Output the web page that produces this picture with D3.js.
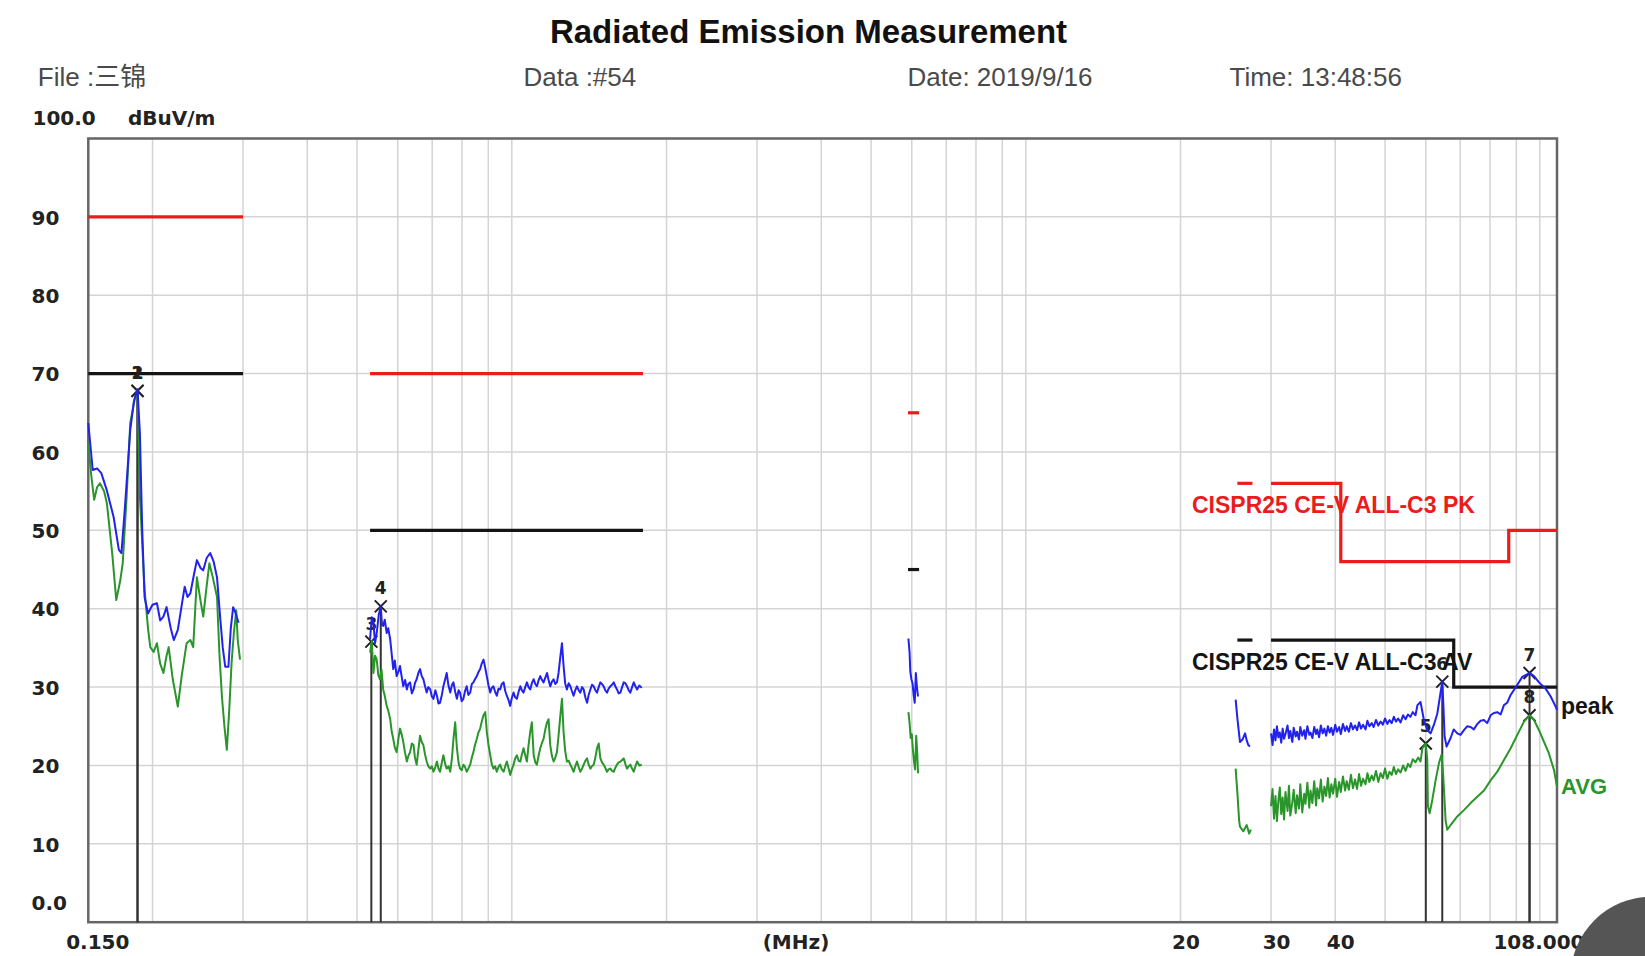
<!DOCTYPE html>
<html><head><meta charset="utf-8">
<script src="https://cdn.jsdelivr.net/npm/d3@7"></script>
<style>body{margin:0;background:#fff;} svg{display:block;}</style>
</head><body>
<svg id="chart" width="1645" height="956"></svg>
<script>
// ---------------- DATA ----------------
const yTickValues = [0, 10, 20, 30, 40, 50, 60, 70, 80, 90];
const yTickLabels = ["0.0", "10", "20", "30", "40", "50", "60", "70", "80", "90"];
const yGridValues = [10, 20, 30, 40, 50, 60, 70, 80, 90];
const xTickValues = [0.15, 20, 30, 40, 108];
const xTickLabels = ["0.150", "20", "30", "40", "108.000"];
const xGridFreqs = [0.2, 0.3, 0.4, 0.5, 0.6, 0.7, 0.8, 0.9, 1, 2, 3, 4, 5, 6, 7, 8, 9, 10, 20, 30, 40, 50, 60, 70, 80, 90, 100];

// limit lines [MHz, dBuV/m]
const pkLimitLW = [[0.15, 90], [0.30, 90]];
const pkLimitAM = [[0.53, 70], [1.8, 70]];
const pkLimitSW = [[5.9, 65], [6.2, 65]];
const pkLimitCB = [[25.8, 56], [27.6, 56]];
const pkLimitVHF = [[30, 56], [41, 56], [41, 46], [87, 46], [87, 50], [108, 50]];
const avLimitLW = [[0.15, 70], [0.30, 70]];
const avLimitAM = [[0.53, 50], [1.8, 50]];
const avLimitSW = [[5.9, 45], [6.2, 45]];
const avLimitCB = [[25.8, 36], [27.6, 36]];
const avLimitVHF = [[30, 36], [68, 36], [68, 30], [108, 30]];

// peak trace (blue)
const peakLW = [[0.150,63.7],[0.153,57.7],[0.156,57.9],[0.159,57.3],[0.163,55.1],[0.168,51.7],[0.172,47.5],[0.174,47.1],[0.177,53.5],[0.181,62.8],[0.184,66.5],[0.187,68.0],[0.189,62.4],[0.191,50.0],[0.193,41.5],[0.196,39.4],[0.200,40.5],[0.204,40.7],[0.207,38.5],[0.210,39.0],[0.213,40.2],[0.217,37.5],[0.220,36.0],[0.224,37.3],[0.228,40.5],[0.231,42.8],[0.234,41.5],[0.237,42.0],[0.241,44.5],[0.244,46.2],[0.248,45.2],[0.251,44.9],[0.255,46.5],[0.259,47.1],[0.263,46.0],[0.267,44.0],[0.271,38.6],[0.274,35.0],[0.277,32.6],[0.281,32.6],[0.284,37.5],[0.287,40.2],[0.290,39.5],[0.294,38.2]];
const peakAM = [[0.530,36.1],[0.534,38.9],[0.538,38.2],[0.542,35.6],[0.546,36.9],[0.551,39.2],[0.556,40.3],[0.559,38.0],[0.562,37.8],[0.566,38.6],[0.571,36.9],[0.575,37.5],[0.580,36.1],[0.588,32.3],[0.592,33.4],[0.597,31.4],[0.602,32.0],[0.606,32.7],[0.611,31.2],[0.615,30.1],[0.620,30.9],[0.625,29.7],[0.629,30.4],[0.634,30.6],[0.639,29.2],[0.644,29.7],[0.648,30.5],[0.653,31.0],[0.658,31.8],[0.663,32.3],[0.668,31.4],[0.673,31.0],[0.678,30.1],[0.683,29.3],[0.688,30.0],[0.694,29.7],[0.699,28.8],[0.704,28.5],[0.710,29.6],[0.715,28.9],[0.720,27.9],[0.725,28.0],[0.731,29.0],[0.736,30.1],[0.742,31.0],[0.747,31.8],[0.753,30.2],[0.759,29.3],[0.765,30.3],[0.770,30.6],[0.776,29.4],[0.782,28.5],[0.788,29.6],[0.793,29.3],[0.799,28.2],[0.805,28.5],[0.811,29.5],[0.817,30.1],[0.823,29.0],[0.830,29.3],[0.836,30.4],[0.842,30.6],[0.848,31.0],[0.855,31.4],[0.861,31.9],[0.868,32.3],[0.874,33.0],[0.881,33.5],[0.887,32.6],[0.894,31.4],[0.901,30.2],[0.908,29.3],[0.914,29.9],[0.921,30.1],[0.928,29.4],[0.935,28.9],[0.942,29.8],[0.949,29.7],[0.956,30.4],[0.964,30.6],[0.971,29.5],[0.978,28.9],[0.986,28.3],[0.993,27.6],[1.000,28.6],[1.008,29.3],[1.015,28.7],[1.023,28.5],[1.031,29.4],[1.039,30.1],[1.046,29.6],[1.054,29.3],[1.062,30.0],[1.070,30.6],[1.078,30.0],[1.086,29.7],[1.094,30.5],[1.103,31.0],[1.111,30.4],[1.119,30.1],[1.128,30.9],[1.136,31.4],[1.145,30.9],[1.153,30.6],[1.162,31.2],[1.171,31.8],[1.179,30.9],[1.188,30.1],[1.197,30.7],[1.206,31.0],[1.215,30.4],[1.224,30.6],[1.233,31.8],[1.243,33.9],[1.252,35.6],[1.261,32.7],[1.270,30.5],[1.280,29.7],[1.290,30.5],[1.300,30.1],[1.309,29.5],[1.319,28.9],[1.329,29.6],[1.339,30.1],[1.349,29.6],[1.359,29.3],[1.370,30.0],[1.380,29.7],[1.390,28.7],[1.401,28.0],[1.411,29.0],[1.422,29.7],[1.432,30.3],[1.443,30.1],[1.454,29.6],[1.465,29.3],[1.476,30.0],[1.487,30.6],[1.498,30.4],[1.509,30.1],[1.520,29.6],[1.532,29.3],[1.543,29.8],[1.555,30.1],[1.567,30.3],[1.579,30.6],[1.590,30.1],[1.602,29.7],[1.614,29.2],[1.627,29.3],[1.639,30.0],[1.651,30.6],[1.663,30.5],[1.676,30.1],[1.688,29.6],[1.701,29.3],[1.714,30.0],[1.727,30.6],[1.740,30.1],[1.753,29.7],[1.770,30.2],[1.790,29.9]];
const peakSW = [[5.91,36.2],[5.94,34.5],[5.96,32.0],[5.99,31.0],[6.02,30.5],[6.05,29.0],[6.08,28.0],[6.11,31.8],[6.14,30.0],[6.17,28.8]];
const peakCB = [[25.6,28.4],[25.8,26.0],[26.0,24.0],[26.1,23.0],[26.4,23.3],[26.7,24.1],[26.9,23.2],[27.1,22.6],[27.3,22.4]];
const peakVHF = [[30.0,24.1],[30.2,22.6],[30.4,24.6],[30.6,23.2],[30.8,25.0],[31.0,23.6],[31.2,24.2],[31.4,22.9],[31.6,24.7],[31.8,23.4],[32.0,24.0],[32.3,25.1],[32.5,23.5],[32.7,24.4],[33.0,23.0],[33.2,24.8],[33.5,23.7],[33.7,24.3],[34.0,23.3],[34.2,24.9],[34.5,23.8],[34.8,24.5],[35.0,23.4],[35.3,25.0],[35.6,23.9],[35.8,24.2],[36.1,23.5],[36.4,24.9],[36.7,24.0],[36.9,24.6],[37.2,23.6],[37.5,25.1],[37.8,24.1],[38.1,24.7],[38.4,23.8],[38.7,25.0],[39.0,24.2],[39.3,24.8],[39.6,23.9],[40.0,25.2],[40.3,24.3],[40.7,24.9],[41.0,24.0],[41.4,25.3],[41.8,24.4],[42.1,25.0],[42.5,24.3],[42.9,25.4],[43.3,24.6],[43.7,25.1],[44.1,24.5],[44.5,25.5],[44.9,24.7],[45.3,25.2],[45.8,24.6],[46.2,25.7],[46.6,25.0],[47.1,25.4],[47.5,24.9],[48.0,25.8],[48.5,25.1],[49.0,25.6],[49.5,25.2],[50.0,26.0],[50.5,25.3],[51.0,25.8],[51.5,25.4],[52.0,26.2],[52.5,25.6],[53.0,26.0],[53.6,25.5],[54.2,26.4],[54.8,25.9],[55.4,26.5],[56.0,26.2],[56.6,26.8],[57.3,26.4],[57.8,27.7],[58.6,28.1],[59.5,25.8],[60.40,24.5],[61.31,24.1],[62.23,25.2],[63.17,26.6],[63.93,28.8],[64.60,30.7],[64.89,28.0],[65.28,23.7],[65.86,22.4],[67.05,23.5],[68.0,24.6],[69.09,24.1],[70.1,23.9],[71.18,24.5],[72.2,25.0],[73.34,24.9],[74.4,24.6],[75.57,25.3],[76.7,25.7],[77.86,25.8],[79.0,25.4],[80.22,26.4],[81.4,26.7],[82.66,26.8],[83.9,26.5],[85.16,27.7],[86.4,28.0],[87.75,29.0],[90.41,30.3],[92.46,31.3],[94.29,31.6],[95.50,31.8],[97.43,31.4],[99.63,30.6],[102.65,29.8],[104.98,28.8],[107.35,27.5],[108.0,27.1]];

// average trace (green)
const avgLW = [[0.150,61.1],[0.152,57.0],[0.154,53.9],[0.156,55.5],[0.158,56.0],[0.161,55.0],[0.163,53.5],[0.167,47.0],[0.170,41.1],[0.173,43.5],[0.175,45.8],[0.178,54.0],[0.181,63.7],[0.185,67.0],[0.187,67.5],[0.189,54.3],[0.193,42.4],[0.196,37.5],[0.198,35.1],[0.201,34.5],[0.204,35.6],[0.207,33.0],[0.210,31.8],[0.213,34.0],[0.215,35.1],[0.219,31.0],[0.224,27.5],[0.228,31.5],[0.233,35.6],[0.237,36.0],[0.240,35.1],[0.244,44.0],[0.248,41.0],[0.251,39.0],[0.255,43.0],[0.258,45.8],[0.262,44.0],[0.267,41.5],[0.270,34.0],[0.273,28.7],[0.276,25.0],[0.279,22.0],[0.282,27.0],[0.285,33.1],[0.288,37.0],[0.291,39.8],[0.293,36.0],[0.296,33.5]];
const avgAM = [[0.530,34.4],[0.534,35.9],[0.538,31.8],[0.542,34.0],[0.546,33.5],[0.550,31.5],[0.554,31.0],[0.558,32.2],[0.562,29.7],[0.566,28.9],[0.571,27.6],[0.575,27.0],[0.580,25.9],[0.584,24.3],[0.588,23.4],[0.592,22.3],[0.597,21.7],[0.602,23.5],[0.606,24.7],[0.611,23.9],[0.615,23.0],[0.620,21.6],[0.625,20.5],[0.629,21.2],[0.634,21.7],[0.639,22.8],[0.644,22.6],[0.648,21.0],[0.653,20.1],[0.658,22.0],[0.663,23.8],[0.668,23.0],[0.673,22.6],[0.678,21.4],[0.683,20.5],[0.688,19.9],[0.694,19.6],[0.699,19.9],[0.704,19.2],[0.710,19.8],[0.715,20.5],[0.720,19.6],[0.725,19.2],[0.731,20.4],[0.736,21.3],[0.742,20.2],[0.747,19.6],[0.753,19.9],[0.759,19.2],[0.765,21.0],[0.770,23.4],[0.776,25.5],[0.782,22.2],[0.788,20.3],[0.793,19.6],[0.799,19.4],[0.805,20.1],[0.811,19.8],[0.817,19.2],[0.823,19.6],[0.830,20.1],[0.836,21.0],[0.842,21.7],[0.848,22.6],[0.855,23.4],[0.861,24.2],[0.868,24.7],[0.874,25.6],[0.881,26.4],[0.888,26.8],[0.894,24.3],[0.901,22.6],[0.908,21.3],[0.914,20.2],[0.921,19.6],[0.928,19.9],[0.935,19.2],[0.942,19.8],[0.949,20.1],[0.956,19.5],[0.964,19.2],[0.971,19.9],[0.978,20.5],[0.986,19.6],[0.993,18.8],[1.000,19.5],[1.008,20.1],[1.015,20.9],[1.023,21.3],[1.031,20.6],[1.039,20.5],[1.046,21.4],[1.054,22.2],[1.062,21.3],[1.070,20.5],[1.078,22.6],[1.086,24.3],[1.094,25.5],[1.103,21.3],[1.111,20.4],[1.119,20.1],[1.128,21.3],[1.136,22.2],[1.145,22.9],[1.153,23.4],[1.162,24.6],[1.171,25.5],[1.179,25.9],[1.188,22.6],[1.197,21.2],[1.206,20.5],[1.215,21.0],[1.224,21.7],[1.233,23.8],[1.243,26.4],[1.252,28.5],[1.261,24.3],[1.270,21.9],[1.280,20.5],[1.290,20.6],[1.300,20.1],[1.309,19.7],[1.319,19.2],[1.329,19.9],[1.339,20.5],[1.349,19.8],[1.359,19.2],[1.370,19.6],[1.380,20.1],[1.390,20.6],[1.401,20.9],[1.411,20.1],[1.422,19.6],[1.432,19.9],[1.443,20.1],[1.454,21.0],[1.465,22.2],[1.476,22.8],[1.487,20.9],[1.498,20.4],[1.509,20.1],[1.520,19.7],[1.532,19.2],[1.543,19.5],[1.555,19.6],[1.567,19.3],[1.579,19.2],[1.590,19.7],[1.602,20.1],[1.614,20.4],[1.627,20.5],[1.639,20.7],[1.651,20.9],[1.663,20.2],[1.676,19.6],[1.688,19.9],[1.701,20.1],[1.714,19.6],[1.727,19.2],[1.740,19.9],[1.753,20.5],[1.770,20.0],[1.790,20.1]];
const avgSW = [[5.91,26.8],[5.94,25.5],[5.97,23.5],[6.00,24.0],[6.03,22.0],[6.06,20.5],[6.09,19.5],[6.12,23.8],[6.15,21.5],[6.17,19.0]];
const avgCB = [[25.6,19.6],[25.8,16.5],[26.0,13.0],[26.1,12.2],[26.5,11.6],[26.9,12.4],[27.2,11.3],[27.4,11.8]];
const avgVHF = [[30.0,14.8],[30.2,17.0],[30.4,13.2],[30.6,16.1],[30.8,12.9],[31.0,15.5],[31.2,17.2],[31.4,13.8],[31.6,15.9],[31.8,13.1],[32.0,16.6],[32.3,14.2],[32.5,17.4],[32.7,13.6],[33.0,15.3],[33.2,16.9],[33.5,13.9],[33.7,16.2],[34.0,14.5],[34.2,17.6],[34.5,14.0],[34.8,16.4],[35.0,15.1],[35.3,17.8],[35.6,14.6],[35.8,16.8],[36.1,15.2],[36.4,18.0],[36.7,14.9],[36.9,17.1],[37.2,15.8],[37.5,18.2],[37.8,15.4],[38.1,17.3],[38.4,16.1],[38.7,18.4],[39.0,15.9],[39.3,17.6],[39.6,16.4],[40.0,18.3],[40.3,16.0],[40.7,17.9],[41.0,16.6],[41.4,18.6],[41.8,16.8],[42.1,18.0],[42.5,16.9],[42.9,18.8],[43.3,17.1],[43.7,18.2],[44.1,17.0],[44.5,18.9],[44.9,17.4],[45.3,18.3],[45.8,17.6],[46.2,19.0],[46.6,17.9],[47.1,18.7],[47.5,18.1],[48.0,19.3],[48.5,17.9],[49.0,19.0],[49.5,18.4],[50.0,19.6],[50.5,18.3],[51.0,19.2],[51.5,18.8],[52.0,19.8],[52.5,18.9],[53.0,19.5],[53.6,19.1],[54.2,20.0],[54.8,19.3],[55.4,20.2],[56.0,19.8],[56.6,20.8],[57.3,20.4],[58.0,21.0],[58.6,20.5],[59.1,22.2],[60.00,22.8],[60.40,20.7],[60.58,14.8],[61.04,13.9],[61.77,15.6],[62.70,18.1],[63.64,20.3],[64.41,21.4],[64.89,18.6],[65.57,13.0],[66.06,11.8],[67.05,12.4],[69.09,13.5],[71.18,14.3],[73.34,15.2],[75.57,16.0],[77.86,16.8],[80.22,18.1],[82.66,19.2],[85.16,20.7],[87.75,22.2],[90.41,23.9],[93.15,25.6],[95.50,26.4],[97.43,25.8],[99.63,24.5],[101.89,23.0],[104.21,21.5],[106.56,19.4],[108.0,17.3]];

// markers
const markerNo = ["1", "2", "3", "4", "5", "6", "7", "8"];
const markerFreq = [0.187, 0.187, 0.533, 0.556, 60.0, 64.6, 95.5, 95.5];
const markerLevel = [67.8, 67.8, 35.8, 40.3, 22.8, 30.7, 31.8, 26.4];

// ---------------- DRAW ----------------
const plot = {left: 88.3, right: 1557, top: 138.5, bottom: 922.2};
const svg = d3.select("#chart");
const x = d3.scaleLog().domain([0.15, 108]).range([plot.left, plot.right]);
const y = d3.scaleLinear().domain([0, 100]).range([plot.bottom, plot.top]);
const line = d3.line().x(d => x(d[0])).y(d => y(d[1]));

svg.append("rect").attr("width", 1645).attr("height", 956).attr("fill", "#fff");

// grid
svg.append("g").selectAll("line").data(xGridFreqs).join("line")
  .attr("x1", d => x(d)).attr("x2", d => x(d))
  .attr("y1", plot.top).attr("y2", plot.bottom)
  .attr("stroke", "#d4d4d4").attr("stroke-width", 1.5);
svg.append("g").selectAll("line").data(yGridValues).join("line")
  .attr("x1", plot.left).attr("x2", plot.right)
  .attr("y1", d => y(d)).attr("y2", d => y(d))
  .attr("stroke", "#d4d4d4").attr("stroke-width", 1.5);

// frame
svg.append("rect").attr("x", plot.left).attr("y", plot.top)
  .attr("width", plot.right - plot.left).attr("height", plot.bottom - plot.top)
  .attr("fill", "none").attr("stroke", "#666").attr("stroke-width", 2.5);

// limits
const red = "#ec1c1c", blk = "#141414", blue = "#2222ee", green = "#2a952a";
[pkLimitLW, pkLimitAM, pkLimitSW, pkLimitCB, pkLimitVHF].forEach(seg =>
  svg.append("path").datum(seg).attr("d", line).attr("fill", "none")
    .attr("stroke", red).attr("stroke-width", 3.2));
[avLimitLW, avLimitAM, avLimitSW, avLimitCB, avLimitVHF].forEach(seg =>
  svg.append("path").datum(seg).attr("d", line).attr("fill", "none")
    .attr("stroke", blk).attr("stroke-width", 3.2));

// markers (under traces)
const mk = svg.append("g");
markerNo.forEach((n, i) => {
  const mx = x(markerFreq[i]), my = y(markerLevel[i]);
  mk.append("line").attr("x1", mx).attr("x2", mx).attr("y1", my).attr("y2", plot.bottom)
    .attr("stroke", "#333").attr("stroke-width", 2);
  mk.append("path").attr("d", `M${mx-6},${my-6}L${mx+6},${my+6}M${mx-6},${my+6}L${mx+6},${my-6}`)
    .attr("stroke", "#222").attr("stroke-width", 2).attr("fill", "none");
  mk.append("text").attr("x", mx).attr("y", my - 12).attr("text-anchor", "middle")
    .attr("font-family", "DejaVu Sans, sans-serif").attr("font-weight", "bold")
    .attr("font-size", 17).attr("fill", "#222").text(n);
});

// traces
[avgLW, avgAM, avgSW, avgCB, avgVHF].forEach(seg =>
  svg.append("path").datum(seg).attr("d", line).attr("fill", "none")
    .attr("stroke", green).attr("stroke-width", 2).attr("stroke-linejoin", "round"));
[peakLW, peakAM, peakSW, peakCB, peakVHF].forEach(seg =>
  svg.append("path").datum(seg).attr("d", line).attr("fill", "none")
    .attr("stroke", blue).attr("stroke-width", 2).attr("stroke-linejoin", "round"));

// Y axis
const yAx = svg.append("g").attr("transform", "translate(31.5,0)")
  .call(d3.axisLeft(y).tickValues(yTickValues).tickFormat((d, i) => yTickLabels[i]).tickSize(0));
yAx.select(".domain").remove();
yAx.selectAll("text").attr("x", 0).attr("text-anchor", "start")
  .attr("font-family", "DejaVu Sans, sans-serif").attr("font-weight", "bold")
  .attr("font-size", 20).attr("fill", "#222")
  .attr("dy", d => d === 0 ? "-0.62em" : "0.36em");

// X axis
const xAx = svg.append("g").attr("transform", "translate(0,942)")
  .call(d3.axisBottom(x).tickValues(xTickValues).tickFormat((d, i) => xTickLabels[i]).tickSize(0));
xAx.select(".domain").remove();
xAx.selectAll("text").attr("y", 0).attr("dy", "0.36em")
  .attr("font-family", "DejaVu Sans, sans-serif").attr("font-weight", "bold")
  .attr("font-size", 20).attr("fill", "#222")
  .attr("text-anchor", d => d === 108 ? "end" : "middle")
  .attr("dx", d => d === 0.15 ? 9 : (d === 108 ? 27 : 5));
xAx.append("text").attr("x", 796).attr("y", 0).attr("dy", "0.36em")
  .attr("text-anchor", "middle").attr("font-family", "DejaVu Sans, sans-serif")
  .attr("font-weight", "bold").attr("font-size", 20).attr("fill", "#222").text("(MHz)");

// titles and header
svg.append("text").attr("x", 808.5).attr("y", 43).attr("text-anchor", "middle")
  .attr("font-family", "Liberation Sans, Arial, sans-serif").attr("font-weight", "bold")
  .attr("font-size", 33).attr("fill", "#111").text("Radiated Emission Measurement");
const header = [["File :三锦", 37.8], ["Data :#54", 523.5], ["Date: 2019/9/16", 907.5], ["Time: 13:48:56", 1229.5]];
header.forEach(h => svg.append("text").attr("x", h[1]).attr("y", 86)
  .attr("font-family", "Liberation Sans, Arial, 'Noto Sans CJK SC', sans-serif")
  .attr("font-size", 26).attr("fill", "#4a4a4a").text(h[0]));
svg.append("text").attr("x", 32.5).attr("y", 125).attr("font-family", "DejaVu Sans, sans-serif")
  .attr("font-weight", "bold").attr("font-size", 20).attr("fill", "#222").text("100.0");
svg.append("text").attr("x", 128).attr("y", 125).attr("font-family", "DejaVu Sans, sans-serif")
  .attr("font-weight", "bold").attr("font-size", 20).attr("fill", "#222").text("dBuV/m");

// annotations
const ann = [["CISPR25 CE-V ALL-C3 PK", 1192, 513, red, 23], ["CISPR25 CE-V ALL-C3 AV", 1192, 670, blk, 23],
             ["peak", 1561, 714, blk, 23], ["AVG", 1561, 794, green, 22]];
ann.forEach(a => svg.append("text").attr("x", a[1]).attr("y", a[2])
  .attr("font-family", "Liberation Sans, Arial, sans-serif").attr("font-weight", "bold")
  .attr("font-size", a[4]).attr("fill", a[3]).text(a[0]));

// dark corner blob
svg.append("circle").attr("cx", 1651.5).attr("cy", 977.7).attr("r", 81).attr("fill", "#555");
</script>
</body></html>
